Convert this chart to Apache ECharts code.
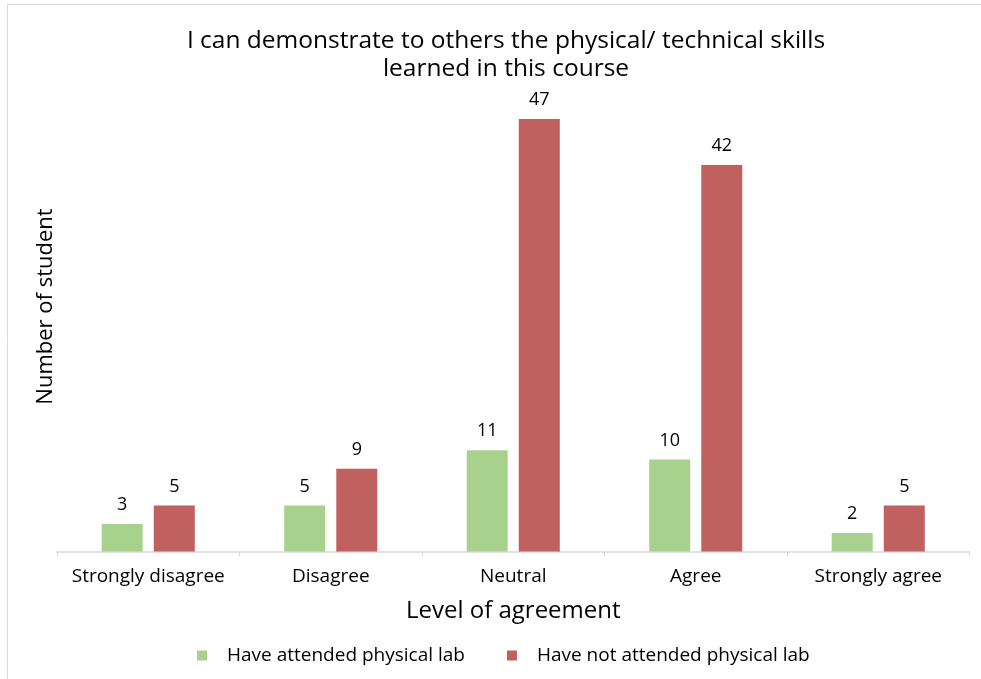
<!DOCTYPE html>
<html>
<head>
<meta charset="utf-8">
<script src="https://cdn.jsdelivr.net/npm/echarts@6/dist/echarts.min.js"></script>
<style>
  html, body { margin: 0; padding: 0; background: #fff; }
  #main { width: 981px; height: 679px; }
</style>
</head>
<body>
<div id="main"></div>
<script>
const categories = ['Strongly disagree', 'Disagree', 'Neutral', 'Agree', 'Strongly agree'];
const attended = [3, 5, 11, 10, 2];
const notAttended = [5, 9, 47, 42, 5];
const seriesNames = ['Have attended physical lab', 'Have not attended physical lab'];

const greenColor = '#a9d18e', redColor = '#c0605f';
const fontFam = '"Open Sans", sans-serif';

let myChart = echarts.init(document.getElementById('main'));

let labelStyle = {
  show: true,
  position: 'top',
  distance: 10,
  fontFamily: fontFam,
  fontSize: 18,
  color: '#000'
};

myChart.setOption({
  animation: false,
  title: {
    text: 'I can demonstrate to others the physical/ technical skills\nlearned in this course',
    left: 501,
    textAlign: 'center',
    top: 22,
    textStyle: {
      fontFamily: fontFam,
      fontSize: 24.5,
      fontWeight: 'normal',
      color: '#000',
      lineHeight: 28
    }
  },
  graphic: [{
    type: 'rect',
    shape: { x: 7.5, y: 4.5, width: 1000, height: 700 },
    style: { fill: 'none', stroke: '#d9d9d9', lineWidth: 1 },
    silent: true
  }],
  legend: {
    bottom: 9,
    left: 192,
    itemWidth: 10,
    itemHeight: 10,
    itemGap: 42,
    icon: 'rect',
    textStyle: { fontFamily: fontFam, fontSize: 19, color: '#000', padding: [0, 0, 0, 15] },
    data: seriesNames
  },
  grid: {
    left: 57,
    right: 11.5,
    top: 91.5,
    bottom: 127.5
  },
  xAxis: {
    type: 'category',
    data: categories,
    name: 'Level of agreement',
    nameLocation: 'middle',
    nameGap: 48,
    nameTextStyle: { fontFamily: fontFam, fontSize: 24, color: '#000' },
    axisLine: { lineStyle: { color: '#d9d9d9', width: 1.5 } },
    axisTick: { show: true, length: 5, lineStyle: { color: '#d9d9d9' } },
    axisLabel: { interval: 0, fontFamily: fontFam, fontSize: 19, color: '#000', margin: 16 }
  },
  yAxis: {
    type: 'value',
    min: 0,
    max: 50,
    name: 'Number of student',
    nameLocation: 'middle',
    nameGap: 0,
    nameTextStyle: { fontFamily: fontFam, fontSize: 22, color: '#000', padding: [0, 0, 0, 30] },
    axisLine: { show: false },
    axisTick: { show: false },
    axisLabel: { show: false },
    splitLine: { show: false }
  },
  series: [
    {
      name: seriesNames[0],
      type: 'bar',
      barWidth: 41,
      barGap: '27%',
      itemStyle: { color: greenColor },
      label: labelStyle,
      data: attended
    },
    {
      name: seriesNames[1],
      type: 'bar',
      barWidth: 41,
      barGap: '27%',
      itemStyle: { color: redColor },
      label: labelStyle,
      data: notAttended
    }
  ]
});
</script>
</body>
</html>
